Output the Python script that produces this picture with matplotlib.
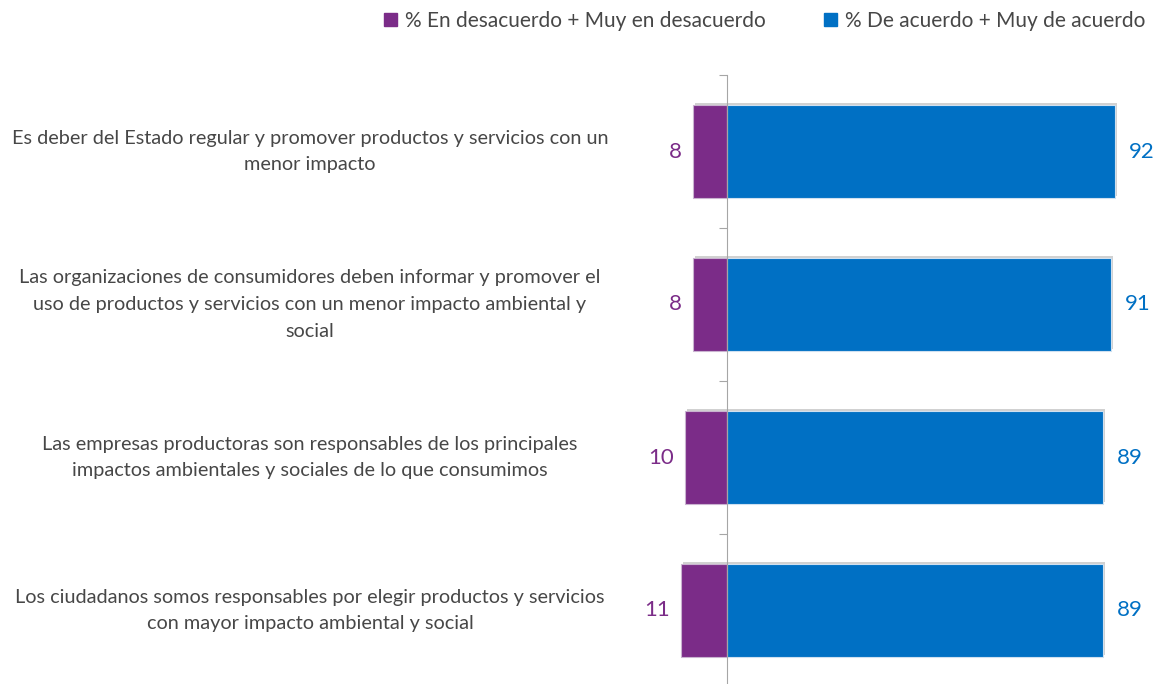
import matplotlib

matplotlib.use("Agg")
import matplotlib.pyplot as plt
import matplotlib.patheffects as pe
from matplotlib.patches import Patch

plt.rcParams["font.family"] = ["Lato", "DejaVu Sans"]

STATEMENTS = [
    "Es deber del Estado regular y promover productos y servicios con un\nmenor impacto",
    "Las organizaciones de consumidores deben informar y promover el\nuso de productos y servicios con un menor impacto ambiental y\nsocial",
    "Las empresas productoras son responsables de los principales\nimpactos ambientales y sociales de lo que consumimos",
    "Los ciudadanos somos responsables por elegir productos y servicios\ncon mayor impacto ambiental y social",
]
DISAGREE = [8, 8, 10, 11]
AGREE = [92, 91, 89, 89]
SERIES = ["% En desacuerdo + Muy en desacuerdo", "% De acuerdo + Muy de acuerdo"]

PURPLE = "#7B2C88"
BLUE = "#0070C4"
GREY_TXT = "#474747"

W, H = 1164, 684
fig = plt.figure(figsize=(W / 100, H / 100), dpi=100)

# axes placed so that 0 sits at x=727px and each row is ~153px tall
x0, x1 = -25, 100
px_per_unit = 4.22
left_px = 727 + x0 * px_per_unit
right_px = 727 + x1 * px_per_unit
top_px, bot_px = 75, 687
ax = fig.add_axes([left_px / W, (H - bot_px) / H,
                   (right_px - left_px) / W, (bot_px - top_px) / H])

ypos = list(range(len(STATEMENTS)))
shadow = [pe.SimplePatchShadow(offset=(1.5, 1.5), shadow_rgbFace="#999999", alpha=0.45),
          pe.Normal()]
neg = ax.barh(ypos, [-v for v in DISAGREE], height=0.61, color=PURPLE,
              edgecolor="#c9b3d0", linewidth=0.8, zorder=2)
pos = ax.barh(ypos, AGREE, height=0.61, color=BLUE,
              edgecolor="#cfe0f0", linewidth=0.8, zorder=2)
for b in list(neg) + list(pos):
    b.set_path_effects(shadow)

for y, v in zip(ypos, DISAGREE):
    ax.annotate(f"{v}", (-v, y), xytext=(-8, 0), textcoords="offset points",
                ha="right", va="center", color=PURPLE, fontsize=16)
for y, v in zip(ypos, AGREE):
    ax.annotate(f"{v}", (v, y), xytext=(10, 0), textcoords="offset points",
                ha="left", va="center", color=BLUE, fontsize=16)

ax.set_xlim(x0, x1)
ax.set_ylim(len(STATEMENTS) - 0.5, -0.5)
for s in ["top", "right", "bottom"]:
    ax.spines[s].set_visible(False)
ax.spines["left"].set_position(("data", 0))
ax.spines["left"].set_color("#a6a6a6")
ax.spines["left"].set_zorder(3)
ax.set_xticks([])
ax.set_yticks([i - 0.5 for i in range(len(STATEMENTS) + 1)])
ax.set_yticklabels([])
ax.tick_params(axis="y", direction="out", length=6, color="#a6a6a6")

for y, s in zip(ypos, STATEMENTS):
    ax.text(310, ax.transData.transform((0, y))[1], s,
            transform=None, ha="center", va="center", multialignment="center",
            fontsize=14.3, color=GREY_TXT, linespacing=1.7)

handles = [Patch(color=PURPLE), Patch(color=BLUE)]
fig.legend(handles, SERIES, loc="upper right", bbox_to_anchor=(1.0, 1.012),
           ncol=2, frameon=False, fontsize=15, labelcolor=GREY_TXT,
           handlelength=0.6, handleheight=0.6, handletextpad=0.4,
           columnspacing=2.8)

fig.savefig("out.png", dpi=100)
